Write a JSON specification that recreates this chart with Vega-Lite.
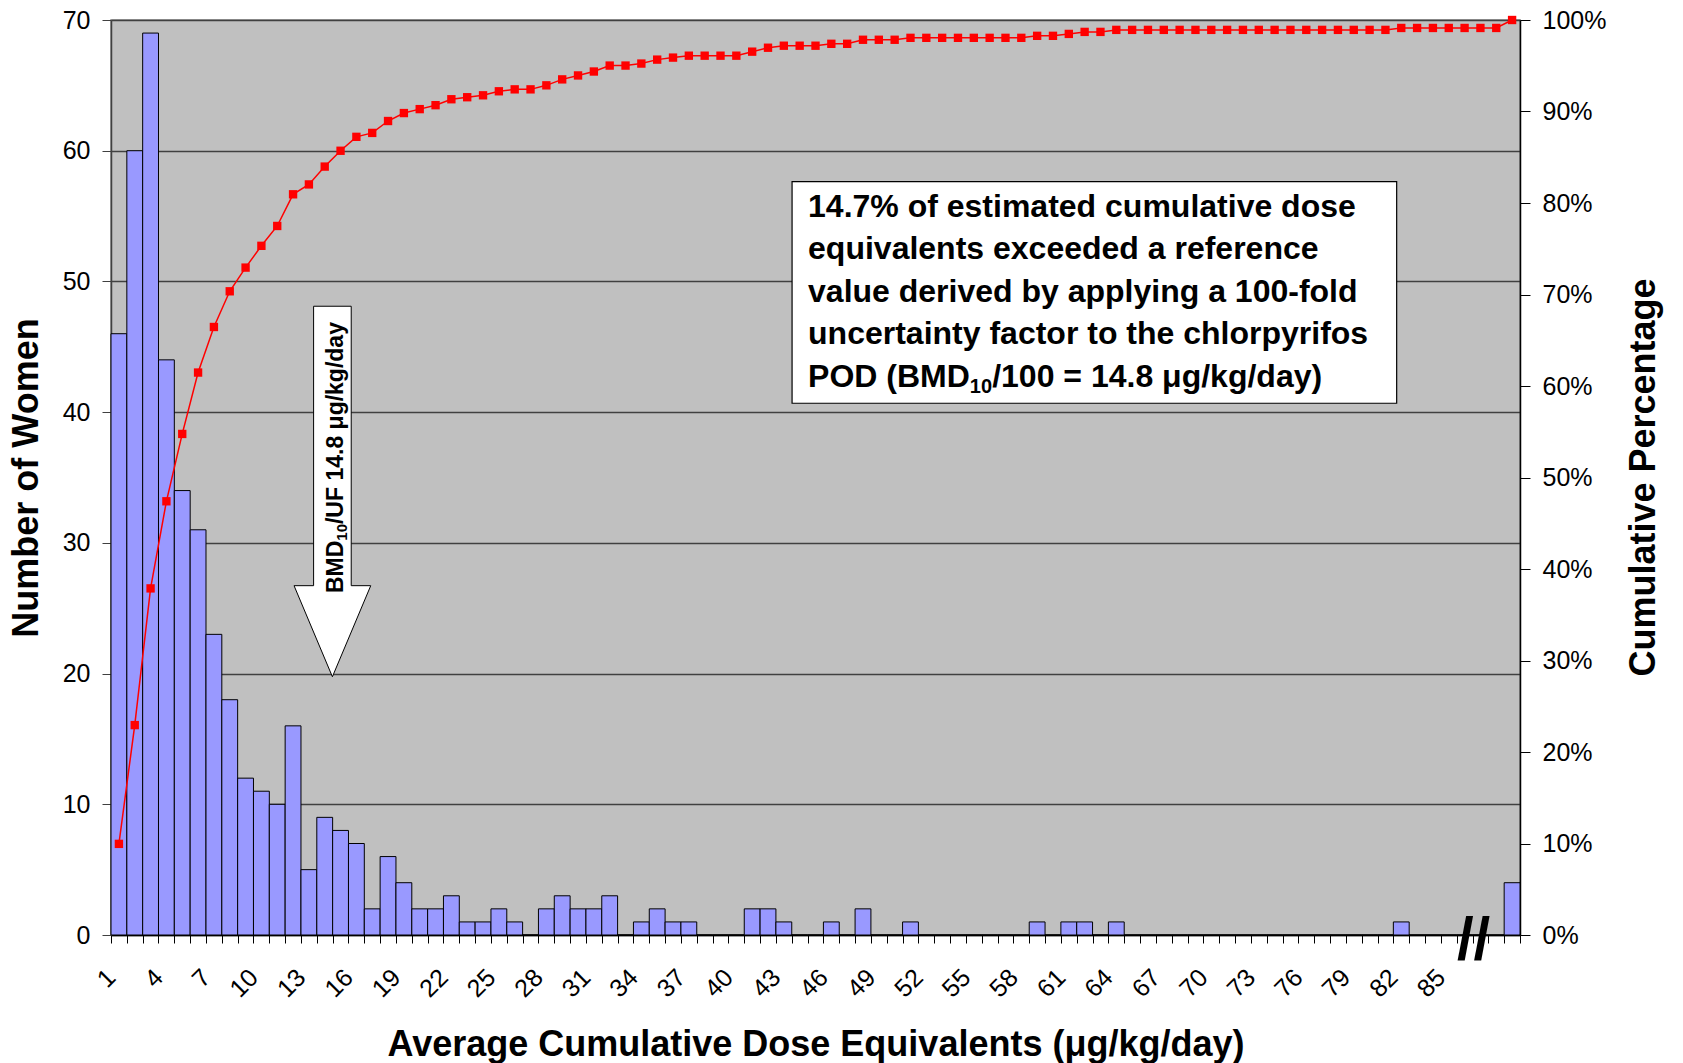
{
  "$schema": "https://vega.github.io/schema/vega-lite/v6.json",
  "width": 1409,
  "height": 915,
  "autosize": {"type": "none"},
  "padding": {"left": 111, "top": 20, "right": 163, "bottom": 128},
  "background": "white",
  "config": {
    "font": "Liberation Sans",
    "view": {"fill": "#C0C0C0", "stroke": "#808080", "strokeWidth": 1.5},
    "axis": {"labelFont": "Liberation Sans", "titleFont": "Liberation Sans", "labelColor": "black", "titleColor": "black", "titleFontWeight": "bold", "titleFontSize": 36}
  },
  "datasets": {
    "hist": [
      {"dose": 1, "women": 46, "cumulative": 0.0996},
      {"dose": 2, "women": 60, "cumulative": 0.2294},
      {"dose": 3, "women": 69, "cumulative": 0.3788},
      {"dose": 4, "women": 44, "cumulative": 0.4740},
      {"dose": 5, "women": 34, "cumulative": 0.5476},
      {"dose": 6, "women": 31, "cumulative": 0.6147},
      {"dose": 7, "women": 23, "cumulative": 0.6645},
      {"dose": 8, "women": 18, "cumulative": 0.7035},
      {"dose": 9, "women": 12, "cumulative": 0.7294},
      {"dose": 10, "women": 11, "cumulative": 0.7532},
      {"dose": 11, "women": 10, "cumulative": 0.7749},
      {"dose": 12, "women": 16, "cumulative": 0.8095},
      {"dose": 13, "women": 5, "cumulative": 0.8203},
      {"dose": 14, "women": 9, "cumulative": 0.8398},
      {"dose": 15, "women": 8, "cumulative": 0.8571},
      {"dose": 16, "women": 7, "cumulative": 0.8723},
      {"dose": 17, "women": 2, "cumulative": 0.8766},
      {"dose": 18, "women": 6, "cumulative": 0.8896},
      {"dose": 19, "women": 4, "cumulative": 0.8983},
      {"dose": 20, "women": 2, "cumulative": 0.9026},
      {"dose": 21, "women": 2, "cumulative": 0.9069},
      {"dose": 22, "women": 3, "cumulative": 0.9134},
      {"dose": 23, "women": 1, "cumulative": 0.9156},
      {"dose": 24, "women": 1, "cumulative": 0.9177},
      {"dose": 25, "women": 2, "cumulative": 0.9221},
      {"dose": 26, "women": 1, "cumulative": 0.9242},
      {"dose": 27, "women": 0, "cumulative": 0.9242},
      {"dose": 28, "women": 2, "cumulative": 0.9286},
      {"dose": 29, "women": 3, "cumulative": 0.9351},
      {"dose": 30, "women": 2, "cumulative": 0.9394},
      {"dose": 31, "women": 2, "cumulative": 0.9437},
      {"dose": 32, "women": 3, "cumulative": 0.9502},
      {"dose": 33, "women": 0, "cumulative": 0.9502},
      {"dose": 34, "women": 1, "cumulative": 0.9524},
      {"dose": 35, "women": 2, "cumulative": 0.9567},
      {"dose": 36, "women": 1, "cumulative": 0.9589},
      {"dose": 37, "women": 1, "cumulative": 0.9610},
      {"dose": 38, "women": 0, "cumulative": 0.9610},
      {"dose": 39, "women": 0, "cumulative": 0.9610},
      {"dose": 40, "women": 0, "cumulative": 0.9610},
      {"dose": 41, "women": 2, "cumulative": 0.9654},
      {"dose": 42, "women": 2, "cumulative": 0.9697},
      {"dose": 43, "women": 1, "cumulative": 0.9719},
      {"dose": 44, "women": 0, "cumulative": 0.9719},
      {"dose": 45, "women": 0, "cumulative": 0.9719},
      {"dose": 46, "women": 1, "cumulative": 0.9740},
      {"dose": 47, "women": 0, "cumulative": 0.9740},
      {"dose": 48, "women": 2, "cumulative": 0.9784},
      {"dose": 49, "women": 0, "cumulative": 0.9784},
      {"dose": 50, "women": 0, "cumulative": 0.9784},
      {"dose": 51, "women": 1, "cumulative": 0.9805},
      {"dose": 52, "women": 0, "cumulative": 0.9805},
      {"dose": 53, "women": 0, "cumulative": 0.9805},
      {"dose": 54, "women": 0, "cumulative": 0.9805},
      {"dose": 55, "women": 0, "cumulative": 0.9805},
      {"dose": 56, "women": 0, "cumulative": 0.9805},
      {"dose": 57, "women": 0, "cumulative": 0.9805},
      {"dose": 58, "women": 0, "cumulative": 0.9805},
      {"dose": 59, "women": 1, "cumulative": 0.9827},
      {"dose": 60, "women": 0, "cumulative": 0.9827},
      {"dose": 61, "women": 1, "cumulative": 0.9848},
      {"dose": 62, "women": 1, "cumulative": 0.9870},
      {"dose": 63, "women": 0, "cumulative": 0.9870},
      {"dose": 64, "women": 1, "cumulative": 0.9892},
      {"dose": 65, "women": 0, "cumulative": 0.9892},
      {"dose": 66, "women": 0, "cumulative": 0.9892},
      {"dose": 67, "women": 0, "cumulative": 0.9892},
      {"dose": 68, "women": 0, "cumulative": 0.9892},
      {"dose": 69, "women": 0, "cumulative": 0.9892},
      {"dose": 70, "women": 0, "cumulative": 0.9892},
      {"dose": 71, "women": 0, "cumulative": 0.9892},
      {"dose": 72, "women": 0, "cumulative": 0.9892},
      {"dose": 73, "women": 0, "cumulative": 0.9892},
      {"dose": 74, "women": 0, "cumulative": 0.9892},
      {"dose": 75, "women": 0, "cumulative": 0.9892},
      {"dose": 76, "women": 0, "cumulative": 0.9892},
      {"dose": 77, "women": 0, "cumulative": 0.9892},
      {"dose": 78, "women": 0, "cumulative": 0.9892},
      {"dose": 79, "women": 0, "cumulative": 0.9892},
      {"dose": 80, "women": 0, "cumulative": 0.9892},
      {"dose": 81, "women": 0, "cumulative": 0.9892},
      {"dose": 82, "women": 1, "cumulative": 0.9913},
      {"dose": 83, "women": 0, "cumulative": 0.9913},
      {"dose": 84, "women": 0, "cumulative": 0.9913},
      {"dose": 85, "women": 0, "cumulative": 0.9913},
      {"dose": 86, "women": 0, "cumulative": 0.9913},
      {"dose": 87, "women": 0, "cumulative": 0.9913},
      {"dose": 88, "women": 0, "cumulative": 0.9913},
      {"dose": 89, "women": 4, "cumulative": 1.0}
    ],
    "note": [{"id": 1}]
  },
  "layer": [
    {
      "data": {"name": "hist"},
      "encoding": {
        "x": {
          "field": "dose", "type": "ordinal",
          "scale": {"paddingInner": 0, "paddingOuter": 0},
          "axis": {
            "title": "Average Cumulative Dose Equivalents (μg/kg/day)",
            "titleX": 704.5, "titleY": 120, "titleAlign": "center", "titleBaseline": "alphabetic",
            "tickBand": "extent", "tickSize": 8, "tickColor": "black", "tickWidth": 1,
            "domainColor": "black", "domainWidth": 1.5,
            "labelAngle": -45, "labelAlign": "right", "labelBaseline": "middle",
            "labelFontSize": 25, "labelPadding": 30, "labelOffset": -8,
            "labelExpr": "datum.value <= 85 && datum.value % 3 == 1 ? datum.label : ''",
            "labelOverlap": false, "grid": false
          }
        }
      },
      "layer": [
        {
          "mark": {"type": "bar", "fill": "#9999FF", "stroke": "black", "strokeWidth": 1},
          "encoding": {
            "y": {
              "field": "women", "type": "quantitative",
              "scale": {"domain": [0, 70], "nice": false},
              "axis": {
                "title": "Number of Women", "titleAngle": 270, "titleX": -74, "titleY": 457.5,
                "titleAlign": "center", "titleBaseline": "alphabetic",
                "values": [0, 10, 20, 30, 40, 50, 60, 70],
                "grid": true, "gridColor": "#404040", "gridWidth": 1.3,
                "tickSize": 9, "tickColor": "#404040", "domainColor": "#404040", "domainWidth": 1.5,
                "labelFontSize": 25, "labelPadding": 12
              }
            }
          }
        },
        {
          "layer": [
            {
              "mark": {"type": "line", "color": "#FF0000", "strokeWidth": 1.5},
              "encoding": {
                "y": {
                  "field": "cumulative", "type": "quantitative",
                  "scale": {"domain": [0, 1], "nice": false},
                  "axis": {
                    "orient": "right", "format": ".0%",
                    "values": [0, 0.1, 0.2, 0.3, 0.4, 0.5, 0.6, 0.7, 0.8, 0.9, 1],
                    "title": "Cumulative Percentage", "titleAngle": 270, "titleX": 134, "titleY": 457,
                    "titleAlign": "center", "titleBaseline": "alphabetic",
                    "grid": false, "tickSize": 10, "tickColor": "black", "domainColor": "black", "domainWidth": 1.5,
                    "labelFontSize": 25, "labelPadding": 12
                  }
                }
              }
            },
            {
              "mark": {"type": "point", "shape": "square", "filled": true, "color": "#FF0000", "size": 70, "opacity": 1},
              "encoding": {"y": {"field": "cumulative", "type": "quantitative"}}
            }
          ]
        }
      ],
      "resolve": {"scale": {"y": "independent"}}
    },
    {
      "data": {"name": "note"},
      "layer": [
        {
          "mark": {"type": "rect", "fill": "white", "stroke": "black", "strokeWidth": 1.2},
          "encoding": {
            "x": {"datum": 43.02, "type": "quantitative", "scale": {"domain": [0, 89], "nice": false, "zero": false}, "axis": null},
            "x2": {"datum": 81.21},
            "y": {"datum": 57.63, "type": "quantitative", "scale": {"domain": [0, 70], "nice": false}, "axis": null},
            "y2": {"datum": 40.68}
          }
        },
        {
          "mark": {
            "type": "text", "align": "left", "baseline": "alphabetic", "fontSize": 32, "fontWeight": "bold",
            "lineHeight": 42.5, "font": "Liberation Sans", "color": "black",
            "text": ["14.7% of estimated cumulative dose", "equivalents exceeded a reference", "value derived by applying a 100-fold", "uncertainty factor to the chlorpyrifos", "POD (BMD"]
          },
          "encoding": {
            "x": {"datum": 44.03, "type": "quantitative", "scale": {"domain": [0, 89], "nice": false, "zero": false}, "axis": null},
            "y": {"datum": 54.95, "type": "quantitative", "scale": {"domain": [0, 70], "nice": false}, "axis": null}
          }
        },
        {
          "mark": {"type": "text", "align": "left", "baseline": "alphabetic", "fontSize": 20, "fontWeight": "bold", "font": "Liberation Sans", "color": "black", "text": "10"},
          "encoding": {
            "x": {"datum": 54.25, "type": "quantitative", "scale": {"domain": [0, 89], "nice": false, "zero": false}, "axis": null},
            "y": {"datum": 41.5, "type": "quantitative", "scale": {"domain": [0, 70], "nice": false}, "axis": null}
          }
        },
        {
          "mark": {"type": "text", "align": "left", "baseline": "alphabetic", "fontSize": 32, "fontWeight": "bold", "font": "Liberation Sans", "color": "black", "text": "/100 = 14.8 μg/kg/day)"},
          "encoding": {
            "x": {"datum": 55.66, "type": "quantitative", "scale": {"domain": [0, 89], "nice": false, "zero": false}, "axis": null},
            "y": {"datum": 41.94, "type": "quantitative", "scale": {"domain": [0, 70], "nice": false}, "axis": null}
          }
        },
        {
          "mark": {
            "type": "point", "shape": "M -0.1015 -1 L 0.1015 -1 L 0.1015 0.5085 L 0.207 0.5085 L 0 1 L -0.207 0.5085 L -0.1015 0.5085 Z",
            "size": 137270, "filled": true, "fill": "white", "stroke": "black", "strokeWidth": 1, "opacity": 1
          },
          "encoding": {
            "x": {"datum": 13.985, "type": "quantitative", "scale": {"domain": [0, 89], "nice": false, "zero": false}, "axis": null},
            "y": {"datum": 33.93, "type": "quantitative", "scale": {"domain": [0, 70], "nice": false}, "axis": null}
          }
        },
        {
          "mark": {"type": "text", "text": "BMD", "angle": 270, "align": "left", "baseline": "middle", "fontSize": 23, "fontWeight": "bold", "font": "Liberation Sans", "color": "black"},
          "encoding": {
            "x": {"datum": 14.21, "type": "quantitative", "scale": {"domain": [0, 89], "nice": false, "zero": false}, "axis": null},
            "y": {"datum": 26.16, "type": "quantitative", "scale": {"domain": [0, 70], "nice": false}, "axis": null}
          }
        },
        {
          "mark": {"type": "text", "text": "10", "angle": 270, "align": "left", "baseline": "middle", "fontSize": 15, "fontWeight": "bold", "font": "Liberation Sans", "color": "black"},
          "encoding": {
            "x": {"datum": 14.58, "type": "quantitative", "scale": {"domain": [0, 89], "nice": false, "zero": false}, "axis": null},
            "y": {"datum": 30.17, "type": "quantitative", "scale": {"domain": [0, 70], "nice": false}, "axis": null}
          }
        },
        {
          "mark": {"type": "text", "text": "/UF 14.8 μg/kg/day", "angle": 270, "align": "left", "baseline": "middle", "fontSize": 23, "fontWeight": "bold", "font": "Liberation Sans", "color": "black"},
          "encoding": {
            "x": {"datum": 14.21, "type": "quantitative", "scale": {"domain": [0, 89], "nice": false, "zero": false}, "axis": null},
            "y": {"datum": 31.44, "type": "quantitative", "scale": {"domain": [0, 70], "nice": false}, "axis": null}
          }
        },
        {
          "mark": {"type": "text", "text": "//", "fontSize": 60, "fontWeight": "bold", "font": "Liberation Sans", "align": "center", "baseline": "middle", "dy": 6, "color": "black"},
          "encoding": {
            "x": {"datum": 86.07, "type": "quantitative", "scale": {"domain": [0, 89], "nice": false, "zero": false}, "axis": null},
            "y": {"datum": 0, "type": "quantitative", "scale": {"domain": [0, 70], "nice": false}, "axis": null}
          }
        }
      ]
    }
  ],
  "resolve": {"scale": {"x": "independent", "y": "independent"}}
}
